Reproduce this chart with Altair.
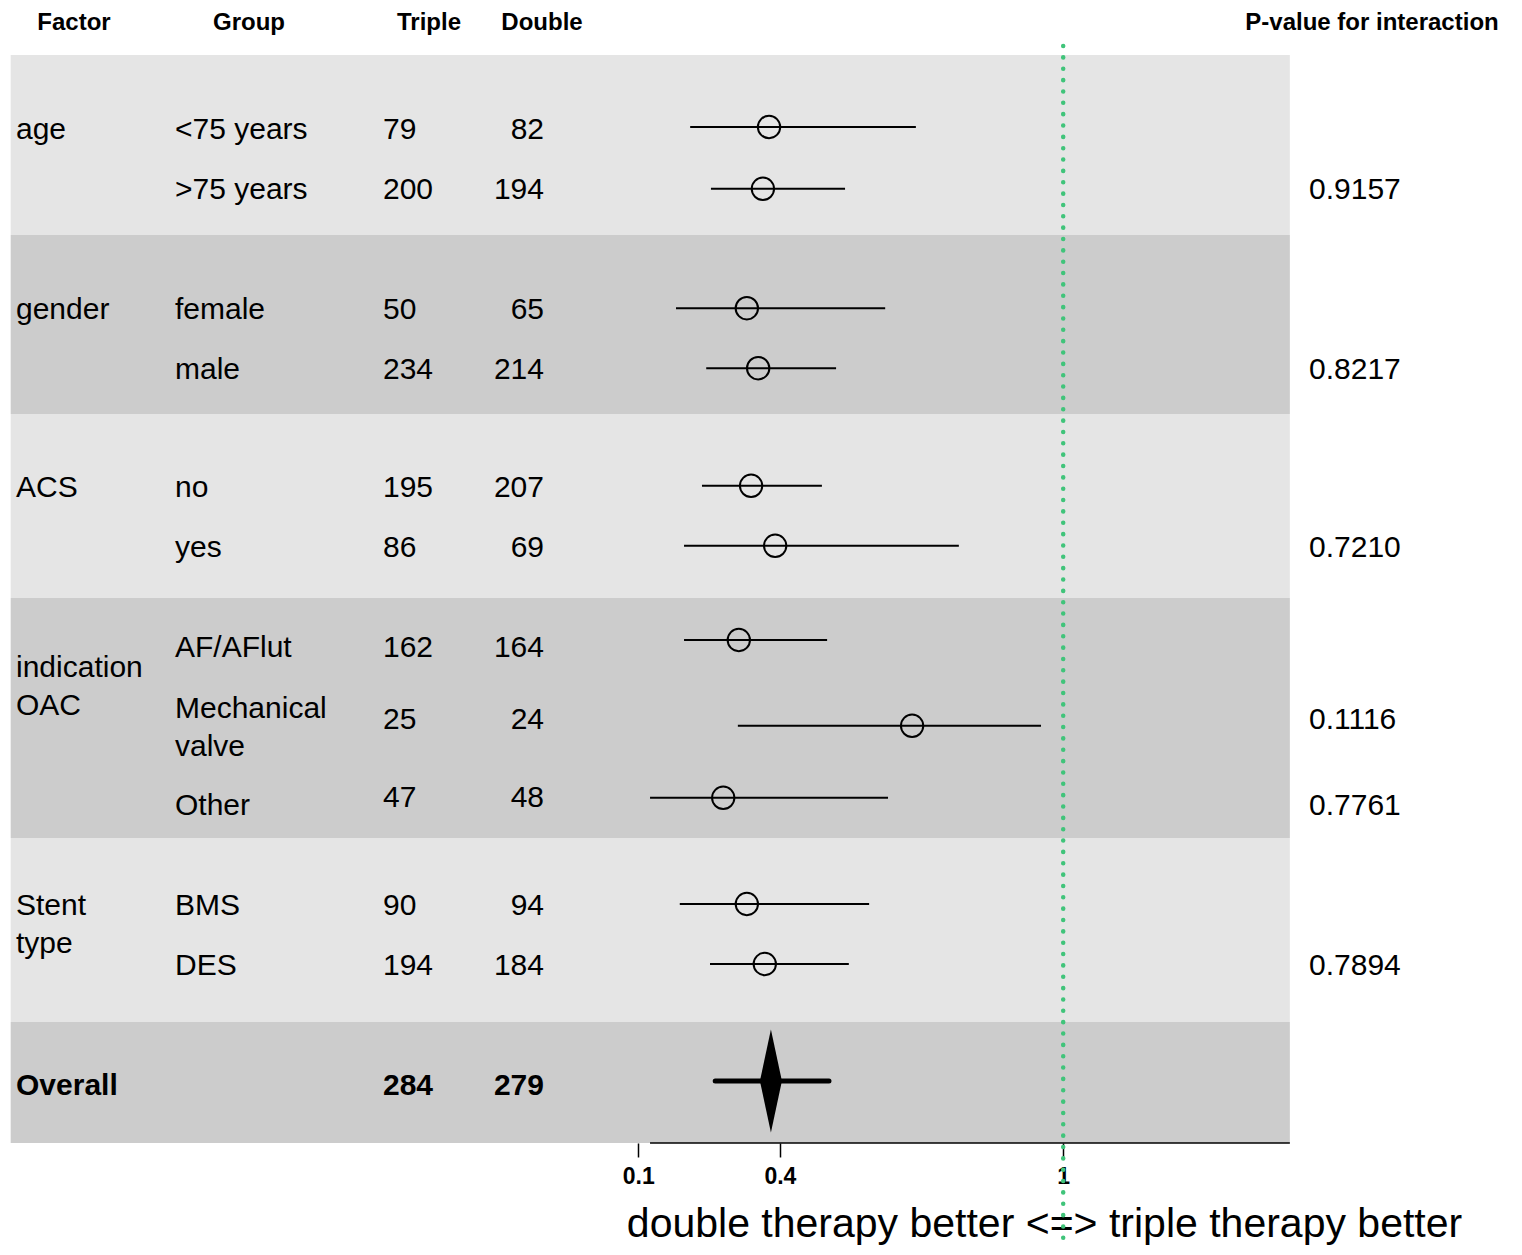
import altair as alt
import pandas as pd

# ---------------- data ----------------
factors = ["age", "gender", "ACS", "indication\nOAC", "Stent\ntype"]
factor_rows = [1.0, 4.0, 6.97, 9.97, 13.93]

groups = ["<75 years", ">75 years", "female", "male", "no", "yes",
          "AF/AFlut", "Mechanical\nvalve", "Other", "BMS", "DES"]
group_rows = [1.0, 2.0, 4.0, 5.0, 6.97, 7.97, 9.63, 10.65, 12.27, 13.93, 14.93]

triple_n = [79, 200, 50, 234, 195, 86, 162, 25, 47, 90, 194]
double_n = [82, 194, 65, 214, 207, 69, 164, 24, 48, 94, 184]
count_rows = [1.0, 2.0, 4.0, 5.0, 6.97, 7.97, 9.63, 10.83, 12.13, 13.93, 14.93]

estimate = [0.377, 0.364, 0.330, 0.354, 0.339, 0.390, 0.313, 0.680, 0.280, 0.330, 0.368]
lower = [0.210, 0.254, 0.180, 0.244, 0.235, 0.197, 0.197, 0.311, 0.125, 0.188, 0.252]
upper = [0.688, 0.538, 0.623, 0.519, 0.489, 0.779, 0.500, 0.953, 0.629, 0.589, 0.546]
ci_rows = [0.95, 1.98, 3.97, 4.97, 6.93, 7.93, 9.5, 10.93, 12.13, 13.9, 14.9]

pvalues = ["0.9157", "0.8217", "0.7210", "0.1116", "0.7761", "0.7894"]
pvalue_rows = [2.0, 5.0, 7.97, 10.83, 12.27, 14.93]

overall_label = "Overall"
overall_triple = 284
overall_double = 279
overall_est = 0.381
overall_lower = 0.263
overall_upper = 0.504
overall_text_row = 16.93
overall_ci_row = 16.85

band_top = [-0.25, 2.75, 5.733, 8.8, 12.8, 15.867]
band_bottom = [2.75, 5.733, 8.8, 12.8, 15.867, 17.883]
band_shade = ["light", "dark", "light", "dark", "light", "dark"]
band_left, band_right = -1.229, 1.48
axis_left = 0.125

headers = ["Factor", "Group", "Triple", "Double", "P-value for interaction"]
header_row = -0.783

tick_values = [0.1, 0.4, 1]
reference_value = 1
x_title = "double therapy better <=> triple therapy better"

# ---------------- layout ----------------
W, H = 1506, 1239
X_DOMAIN = [-1.2347, 1.9547]
Y_DOMAIN = [-1.0333, (H - 62) / 60]
AXIS_Y = 62 + 60 * band_bottom[-1]
FONT = "Liberation Sans"
FS = 30

xs = alt.Scale(domain=X_DOMAIN, nice=False, zero=False)
ys = alt.Scale(domain=Y_DOMAIN, nice=False, zero=False, reverse=True)


def Y(field):
    return alt.Y(field, type="quantitative", scale=ys, axis=None)


bands = pd.DataFrame({"top": band_top, "bottom": band_bottom, "shade": band_shade,
                      "l": band_left, "r": band_right})
band_layer = alt.Chart(bands).mark_rect().encode(
    x=alt.X("l:Q", scale=xs, axis=alt.Axis(
        values=tick_values, format="~g", title=x_title, grid=False, domain=False,
        labelFont=FONT, labelFontSize=23, labelFontWeight="bold", labelColor="black",
        labelPadding=9, tickColor="black", tickWidth=1.5, tickSize=14,
        offset=AXIS_Y - H, titleFont=FONT, titleFontSize=41, titleFontWeight="normal",
        titleColor="black", titleX=1036, titleY=94, titleAlign="center",
        titleBaseline="alphabetic", labelFlush=False)),
    x2="r:Q",
    y=Y("top"),
    y2="bottom:Q",
    color=alt.Color("shade:N", scale=alt.Scale(domain=["light", "dark"],
                                               range=["#e5e5e5", "#cccccc"]), legend=None),
)

axis_line = alt.Chart(pd.DataFrame({"a": [axis_left], "b": [band_right],
                                    "y": [band_bottom[-1]]})).mark_rule(
    color="black", strokeWidth=1.5).encode(
    x=alt.X("a:Q", scale=xs), x2="b:Q", y=Y("y"))

ci = pd.DataFrame({"est": estimate, "lo": lower, "hi": upper, "row": ci_rows})
ci_rules = alt.Chart(ci).mark_rule(color="black", strokeWidth=2).encode(
    x=alt.X("lo:Q", scale=xs), x2="hi:Q", y=Y("row"))
ci_points = alt.Chart(ci).mark_point(
    shape="circle", filled=False, color="black", size=500, strokeWidth=2, opacity=1
).encode(x=alt.X("est:Q", scale=xs), y=Y("row"))

ov = pd.DataFrame({"est": [overall_est], "lo": [overall_lower], "hi": [overall_upper],
                   "row": [overall_ci_row]})
ov_rule = alt.Chart(ov).mark_rule(color="black", strokeWidth=5, strokeCap="round").encode(
    x=alt.X("lo:Q", scale=xs), x2="hi:Q", y=Y("row"))
ov_diamond = alt.Chart(ov).mark_point(
    shape="M0,-1L0.2136,0L0,1L-0.2136,0Z", filled=True, color="black", size=10609,
    opacity=1, strokeWidth=0).encode(x=alt.X("est:Q", scale=xs), y=Y("row"))

ref_line = alt.Chart(pd.DataFrame({"v": [reference_value], "top": [-0.4]})).mark_rule(
    color="#40c47a", strokeWidth=4.5, strokeCap="round", strokeDash=[0.1, 11.25]
).encode(x=alt.X("v:Q", scale=xs), y=Y("top"), y2=alt.value(H))


def text_layer(values, rows, xpx, align="left", bold=False, size=FS):
    df = pd.DataFrame({"t": [str(v) for v in values], "row": rows})
    return alt.Chart(df).mark_text(
        align=align, baseline="middle", font=FONT, fontSize=size,
        fontWeight="bold" if bold else "normal", color="black",
        lineBreak="\n", lineHeight=38
    ).encode(x=alt.value(xpx), y=Y("row"), text="t:N")


texts = [
    text_layer(factors, factor_rows, 8),
    text_layer(groups, group_rows, 167),
    text_layer(triple_n, count_rows, 375),
    text_layer(double_n, count_rows, 536, align="right"),
    text_layer(pvalues, pvalue_rows, 1301),
    text_layer([overall_label], [overall_text_row], 8, bold=True),
    text_layer([overall_triple], [overall_text_row], 375, bold=True),
    text_layer([overall_double], [overall_text_row], 536, align="right", bold=True),
]
header_x = [66, 241, 421, 534, 1364]
for h, hx in zip(headers, header_x):
    texts.append(text_layer([h], [header_row], hx, align="center", bold=True, size=24))

chart = alt.layer(
    band_layer, axis_line, ci_rules, ci_points, ov_rule, ov_diamond, ref_line, *texts
).properties(
    width=W, height=H, padding=0, autosize=alt.AutoSizeParams(type="none"),
    background="white"
).configure_view(stroke=None)

chart.save("out.html", embed_options={"renderer": "svg", "actions": False})
